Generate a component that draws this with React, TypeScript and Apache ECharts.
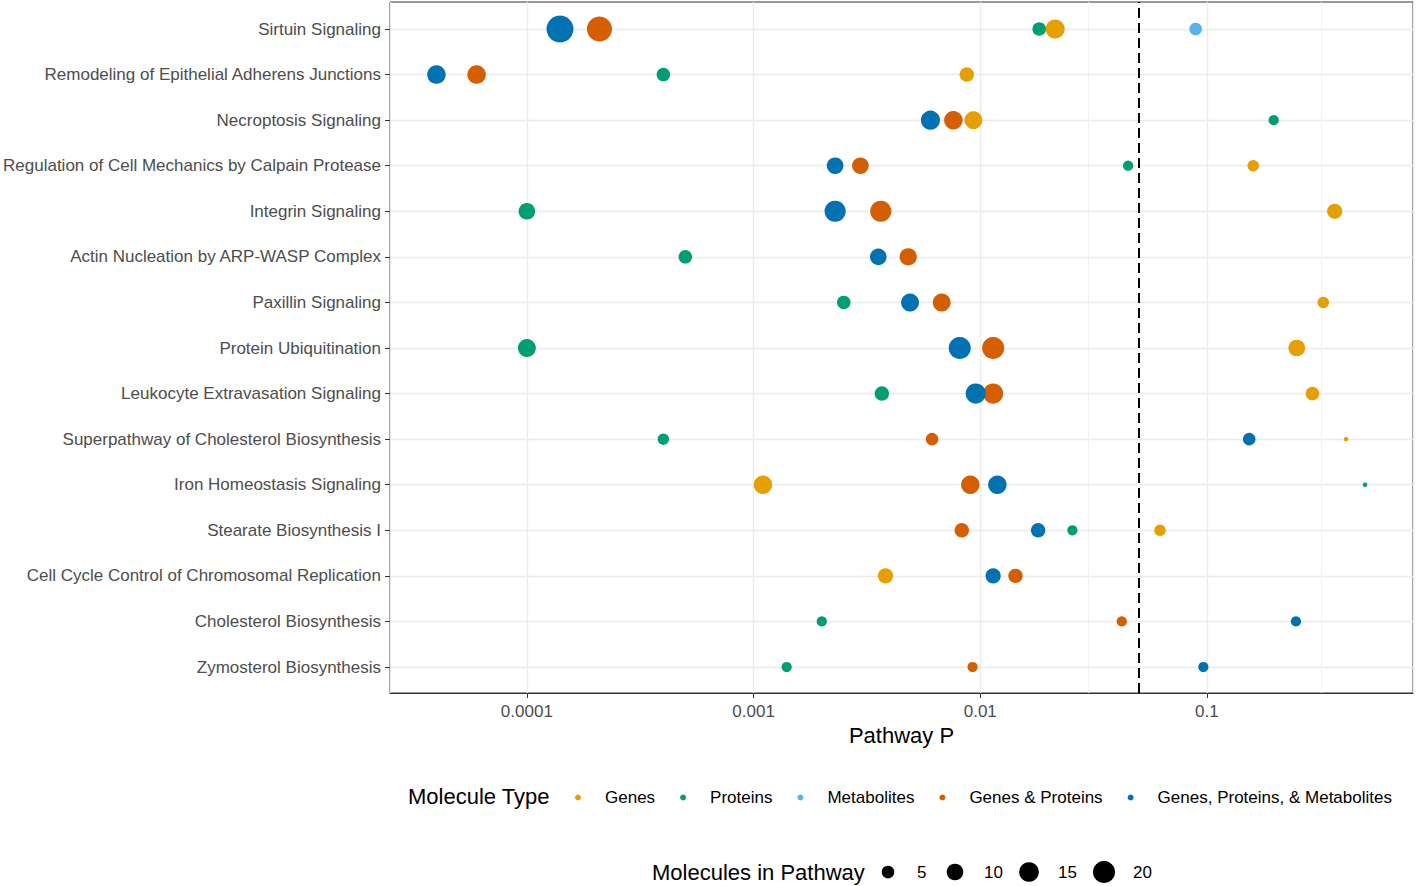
import React, { useEffect, useRef } from "react";
import * as echarts from "echarts";

const categories = [
  "Sirtuin Signaling",
  "Remodeling of Epithelial Adherens Junctions",
  "Necroptosis Signaling",
  "Regulation of Cell Mechanics by Calpain Protease",
  "Integrin Signaling",
  "Actin Nucleation by ARP-WASP Complex",
  "Paxillin Signaling",
  "Protein Ubiquitination",
  "Leukocyte Extravasation Signaling",
  "Superpathway of Cholesterol Biosynthesis",
  "Iron Homeostasis Signaling",
  "Stearate Biosynthesis I",
  "Cell Cycle Control of Chromosomal Replication",
  "Cholesterol Biosynthesis",
  "Zymosterol Biosynthesis",
];

const typeNames = [
  "Genes",
  "Proteins",
  "Metabolites",
  "Genes & Proteins",
  "Genes, Proteins, & Metabolites",
];
const typeColors = ["#E69F00", "#009E73", "#56B4E9", "#D55E00", "#0072B2"];

// Pathway p-values per molecule type (one entry per category, null = absent)
const genesP = [0.0214, 0.00872, 0.00933, 0.16, 0.366, null, 0.326, 0.249, 0.292, 0.411, 0.0011, 0.0621, 0.00382, null, null];
const genesN = [14, 7, 12, 4, 8, null, 4, 10, 6, 1, 13, 4, 8, null, null];
const proteinsP = [0.0182, 0.0004, 0.197, 0.0449, 0.0001, 0.0005, 0.0025, 0.0001, 0.00368, 0.0004, 0.498, 0.0255, null, 0.002, 0.0014];
const proteinsN = [6, 6, 3, 3, 10, 6, 6, 12, 7, 4, 1, 3, null, 3, 3];
const metabolitesP = [0.0892, null, null, null, null, null, null, null, null, null, null, null, null, null, null];
const metabolitesN = [5, null, null, null, null, null, null, null, null, null, null, null, null, null, null];
const genesProteinsP = [0.000209, 0.00006, 0.00761, 0.00296, 0.00364, 0.00481, 0.00676, 0.0114, 0.0114, 0.00613, 0.00904, 0.00829, 0.0143, 0.0421, 0.00925];
const genesProteinsN = [27, 13, 13, 10, 18, 11, 12, 20, 16, 5, 13, 7, 7, 3, 3];
const allP = [0.00014, 0.0000399, 0.00603, 0.00229, 0.00229, 0.00355, 0.0049, 0.00812, 0.00955, 0.1536, 0.0119, 0.018, 0.0114, 0.247, 0.0964];
const allN = [32, 13, 14, 10, 18, 10, 12, 20, 16, 5, 13, 7, 8, 3, 3];

const typeP = [genesP, proteinsP, metabolitesP, genesProteinsP, allP];
const typeN = [genesN, proteinsN, metabolitesN, genesProteinsN, allN];

const xTickLabels = ["0.0001", "0.001", "0.01", "0.1"]; // exponents -4..-1
const xMin = 0.0000249;
const xMax = 0.811;
const thresholdP = 0.05;
const minorBreaks = [Math.pow(10, -4.5), Math.pow(10, -3.5), Math.pow(10, -2.5), Math.pow(10, -1.5), Math.pow(10, -0.5)];
const sizeBreaks = [5, 10, 15, 20];
const sizeDomain = [1, 32];

const FONT = "'Liberation Sans', Arial, sans-serif";

function sizeFn(n: number) {
  const t = Math.max(0, (n - sizeDomain[0]) / (sizeDomain[1] - sizeDomain[0]));
  return 4.5 + 22.5 * Math.sqrt(t);
}

export default function App() {
  const ref = useRef<HTMLDivElement>(null);
  useEffect(() => {
    if (!ref.current) return;
    const chart = echarts.init(ref.current, undefined, { renderer: "svg" });

    const dataSeries = typeNames.map((name, k) => ({
      name,
      type: "scatter",
      xAxisIndex: 1,
      yAxisIndex: 1,
      z: 5,
      itemStyle: { color: typeColors[k], opacity: 1 },
      symbolSize: (d: any) => sizeFn(d[2]),
      data: categories
        .map((c, i) => (typeP[k][i] == null ? null : [typeP[k][i], c, typeN[k][i]]))
        .filter((d) => d !== null),
    }));

    const sizeKeyX = [888, 955, 1029, 1104];
    const sizeY = 872;
    const graphics: any[] = [
      {
        type: "text",
        x: 408,
        y: 796,
        style: { text: "Molecule Type", fontSize: 22, fontFamily: FONT, fill: "#000", verticalAlign: "middle" },
      },
      {
        type: "text",
        x: 652,
        y: sizeY,
        style: { text: "Molecules in Pathway", fontSize: 22, fontFamily: FONT, fill: "#000", verticalAlign: "middle" },
      },
    ];
    sizeBreaks.forEach((b, i) => {
      graphics.push({
        type: "circle",
        shape: { cx: sizeKeyX[i], cy: sizeY, r: sizeFn(b) / 2 },
        style: { fill: "#000" },
      });
      graphics.push({
        type: "text",
        x: sizeKeyX[i] + 29,
        y: sizeY,
        style: { text: String(b), fontSize: 17, fontFamily: FONT, fill: "#000", verticalAlign: "middle" },
      });
    });

    const option: any = {
      animation: false,
      backgroundColor: "#ffffff",
      textStyle: { fontFamily: FONT },
      grid: [
        { left: 390, right: 3, top: 2, bottom: 193, show: true, borderColor: "#333333", borderWidth: 1, backgroundColor: "transparent" },
        { left: 390, right: 3, top: 29, bottom: 219 },
      ],
      xAxis: [
        {
          type: "log",
          logBase: 10,
          gridIndex: 0,
          min: xMin,
          max: xMax,
          axisLine: { show: true, onZero: false, lineStyle: { color: "#333333", width: 1 } },
          axisTick: { show: true, length: 5, lineStyle: { color: "#333333" } },
          axisLabel: {
            color: "#4D4D4D",
            fontSize: 17,
            margin: 10,
            showMinLabel: false,
            showMaxLabel: false,
            formatter: (v: number) => {
              const l = Math.log10(v);
              const e = Math.round(l);
              if (Math.abs(l - e) > 1e-6) return "";
              return xTickLabels[e + 4] ?? "";
            },
          },
          splitLine: { show: true, lineStyle: { color: "#EBEBEB", width: 1.3 } },
          name: "Pathway P",
          nameLocation: "middle",
          nameGap: 31,
          nameTextStyle: { fontSize: 22, color: "#000", fontFamily: FONT },
        },
        { type: "log", logBase: 10, gridIndex: 1, min: xMin, max: xMax, show: false },
      ],
      yAxis: [
        { type: "value", gridIndex: 0, min: 0, max: 1, show: false },
        {
          type: "category",
          gridIndex: 1,
          data: categories,
          inverse: true,
          boundaryGap: false,
          axisLine: { show: false },
          axisTick: { show: true, length: 5, interval: 0, lineStyle: { color: "#333333" } },
          axisLabel: { color: "#4D4D4D", fontSize: 17, margin: 9, interval: 0, fontFamily: FONT },
          splitLine: { show: true, interval: 0, lineStyle: { color: "#EBEBEB", width: 1.3 } },
        },
      ],
      legend: {
        data: typeNames,
        left: 570,
        top: 784,
        orient: "horizontal",
        icon: "circle",
        itemWidth: 6,
        itemHeight: 6,
        itemGap: 25,
        textStyle: { fontSize: 17, color: "#000", fontFamily: FONT, padding: [0, 0, 0, 19] },
      },
      graphic: graphics,
      series: [
        {
          name: "minor-grid",
          type: "scatter",
          xAxisIndex: 0,
          yAxisIndex: 0,
          data: [],
          z: 1,
          silent: true,
          markLine: {
            silent: true,
            symbol: "none",
            label: { show: false },
            lineStyle: { color: "#F2F2F2", width: 1, type: "solid" },
            data: minorBreaks.map((v) => ({ xAxis: v })),
          },
        },
        {
          name: "threshold",
          type: "scatter",
          xAxisIndex: 0,
          yAxisIndex: 0,
          data: [],
          z: 4,
          silent: true,
          markLine: {
            silent: true,
            symbol: "none",
            label: { show: false },
            lineStyle: { color: "#000", width: 2, type: [10, 5] },
            data: [{ xAxis: thresholdP }],
          },
        },
        ...dataSeries,
      ],
    };
    chart.setOption(option);
    return () => chart.dispose();
  }, []);
  return <div ref={ref} style={{ position: "fixed", left: 0, top: 0, width: 1416, height: 886 }} />;
}
